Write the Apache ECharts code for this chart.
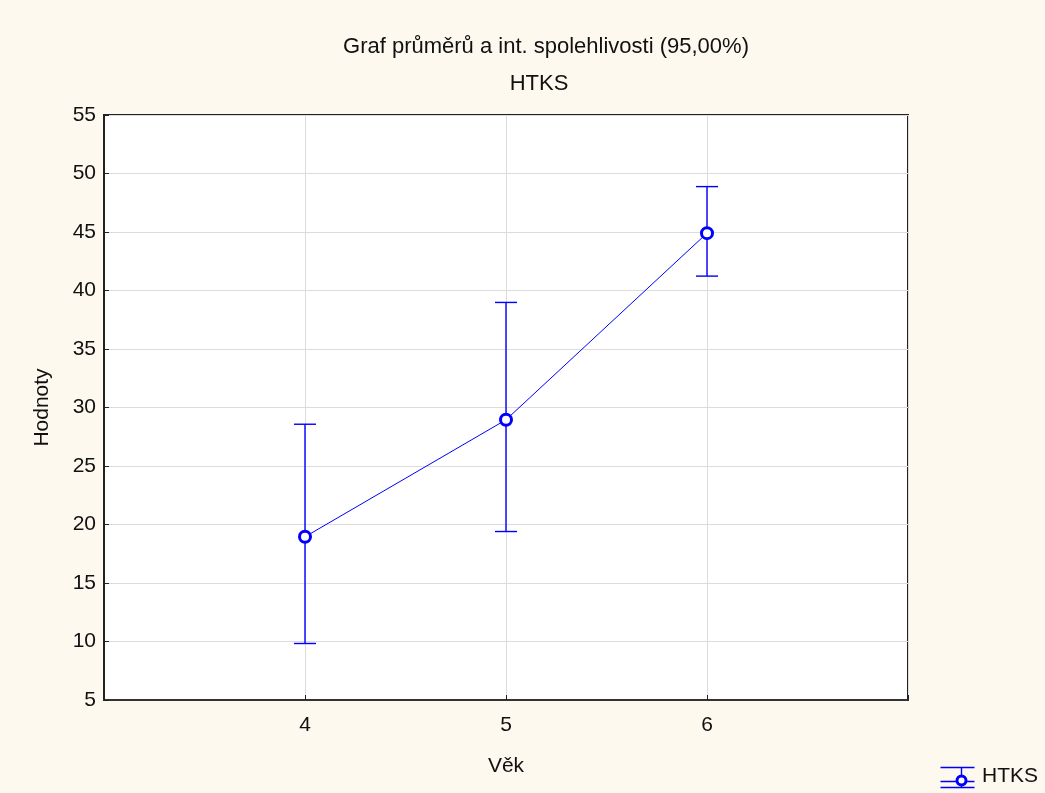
<!DOCTYPE html>
<html>
<head>
<meta charset="utf-8">
<script src="https://cdn.jsdelivr.net/npm/echarts@6/dist/echarts.min.js"></script>
<style>
html,body{margin:0;padding:0;background:#FDF9EF;}
#c{width:1045px;height:793px;}
</style>
</head>
<body>
<div id="c"></div>
<script>
var titleText = 'Graf průměrů a int. spolehlivosti (95,00%)';
var subtitleText = 'HTKS';
var xName = 'Věk';
var yName = 'Hodnoty';
var seriesName = 'HTKS';
var ages = [4, 5, 6];
var means = [18.95, 28.95, 44.9];
var lower = [9.83, 19.4, 41.23];
var upper = [28.57, 38.98, 48.88];
var xTicks = [4, 5, 6];

var FONT = '"Liberation Sans", Arial, sans-serif';
var BLUE = '#0000FF';

var chart = echarts.init(document.getElementById('c'));
var lineData = ages.map(function (a, i) { return [a, means[i]]; });
var errData = ages.map(function (a, i) { return [a, lower[i], upper[i]]; });

chart.setOption({
  backgroundColor: '#FDF9EF',
  animation: false,
  title: [
    { text: titleText, left: 541, top: 31, textAlign: 'center',
      textStyle: { fontFamily: FONT, fontSize: 22, fontWeight: 'normal', color: '#111' } },
    { text: subtitleText, left: 534, top: 68, textAlign: 'center',
      textStyle: { fontFamily: FONT, fontSize: 22, fontWeight: 'normal', color: '#111' } }
  ],
  grid: { left: 104, right: 137, top: 115, bottom: 93, show: true, backgroundColor: '#fff',
          borderColor: '#222', borderWidth: 2 },
  xAxis: {
    type: 'value', min: 3, max: 7, interval: 1,
    name: xName, nameLocation: 'middle', nameGap: 56,
    nameTextStyle: { fontFamily: FONT, fontSize: 21, color: '#111' },
    axisLine: { show: true, lineStyle: { color: '#333', width: 2 } },
    axisTick: { show: true, inside: true, length: 5, lineStyle: { color: '#222' } },
    axisLabel: { fontFamily: FONT, fontSize: 21, color: '#111', margin: 15,
      formatter: function (v) { return xTicks.indexOf(v) >= 0 ? String(v) : ''; } },
    splitLine: { show: true, lineStyle: { color: '#dcdcdc', width: 1 } }
  },
  yAxis: {
    type: 'value', min: 5, max: 55, interval: 5,
    name: yName, nameLocation: 'middle', nameGap: 51,
    nameTextStyle: { fontFamily: FONT, fontSize: 21, color: '#111' },
    axisLine: { show: true, lineStyle: { color: '#222', width: 2 } },
    axisTick: { show: true, inside: true, length: 5, lineStyle: { color: '#222' } },
    axisLabel: { fontFamily: FONT, fontSize: 21, color: '#111', margin: 8 },
    splitLine: { show: true, lineStyle: { color: '#dcdcdc', width: 1 } }
  },
  series: [
    {
      type: 'custom', name: seriesName + ' CI', data: errData, z: 3,
      itemStyle: { color: BLUE },
      renderItem: function (params, api) {
        var x = api.value(0);
        var lo = api.coord([x, api.value(1)]);
        var hi = api.coord([x, api.value(2)]);
        var w = 11;
        var st = { stroke: BLUE, lineWidth: 1.4, fill: null };
        return { type: 'group', children: [
          { type: 'line', shape: { x1: lo[0], y1: lo[1], x2: hi[0], y2: hi[1] }, style: st },
          { type: 'line', shape: { x1: lo[0] - w, y1: lo[1], x2: lo[0] + w, y2: lo[1] }, style: st },
          { type: 'line', shape: { x1: hi[0] - w, y1: hi[1], x2: hi[0] + w, y2: hi[1] }, style: st }
        ] };
      }
    },
    {
      type: 'line', name: seriesName, data: lineData, z: 5,
      symbol: 'circle', symbolSize: 11,
      lineStyle: { color: BLUE, width: 1 },
      itemStyle: { color: '#fff', borderColor: BLUE, borderWidth: 3 }
    }
  ],
  graphic: [
    { type: 'group', left: 938, top: 765, children: [
      { type: 'line', shape: { x1: 0, y1: 1, x2: 34, y2: 1 }, style: { stroke: BLUE, lineWidth: 1.4 } },
      { type: 'line', shape: { x1: 0, y1: 15, x2: 34, y2: 15 }, style: { stroke: BLUE, lineWidth: 1.4 } },
      { type: 'line', shape: { x1: 0, y1: 21, x2: 34, y2: 21 }, style: { stroke: BLUE, lineWidth: 1.4 } },
      { type: 'line', shape: { x1: 21, y1: 1, x2: 21, y2: 21 }, style: { stroke: BLUE, lineWidth: 1.4 } },
      { type: 'circle', shape: { cx: 21, cy: 14, r: 4.5 }, style: { fill: '#fff', stroke: BLUE, lineWidth: 3 } }
    ] },
    { type: 'text', left: 982, top: 766,
      style: { text: seriesName, fontFamily: FONT, fontSize: 21, fill: '#111' } }
  ]
});
</script>
</body>
</html>
